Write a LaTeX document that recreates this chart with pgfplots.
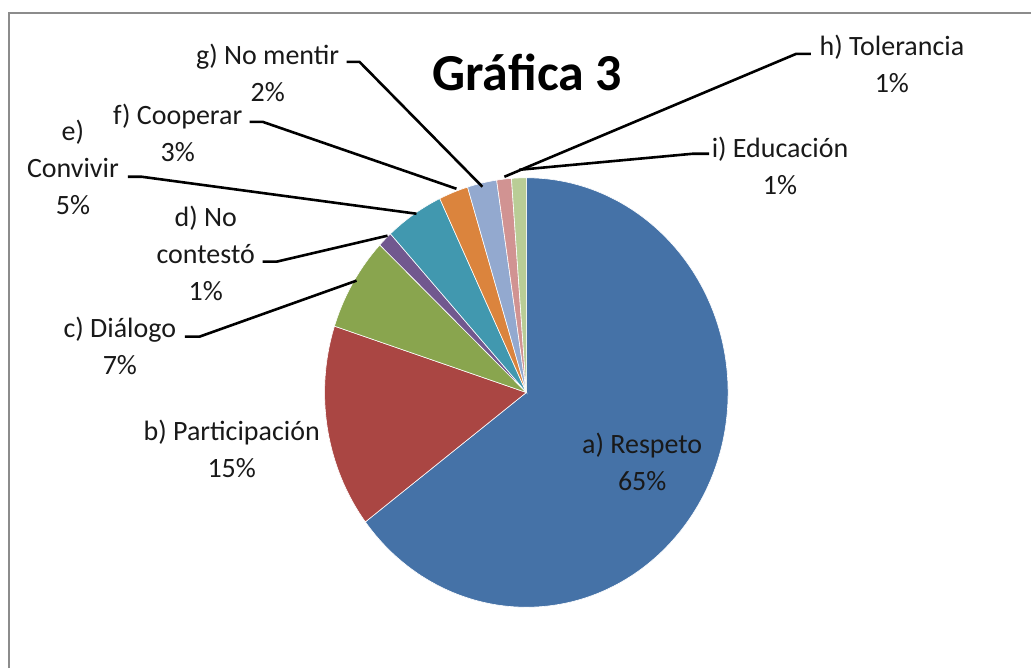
\documentclass[border=0pt]{standalone}
\usepackage{pgfplots}
\pgfplotsset{compat=1.18}
\usepackage{pgfplotstable}
\usepackage{fontspec}
\setmainfont{Carlito}

\definecolor{cA}{HTML}{4572A7}
\definecolor{cB}{HTML}{AA4643}
\definecolor{cC}{HTML}{89A54E}
\definecolor{cD}{HTML}{71588F}
\definecolor{cE}{HTML}{4198AF}
\definecolor{cF}{HTML}{DB843D}
\definecolor{cG}{HTML}{93A9CF}
\definecolor{cH}{HTML}{D19392}
\definecolor{cI}{HTML}{B9CD96}
\definecolor{frame}{HTML}{8C8C8C}

% slice values (total 85)
\pgfplotstableread{
slice value col
a 55 cA
b 13 cB
c 6 cC
d 1 cD
e 4 cE
f 2 cF
g 2 cG
h 1 cH
i 1 cI
}\piedata

\begin{document}
\begin{tikzpicture}
\begin{axis}[
  width=516bp, height=334.5bp, scale only axis,
  xmin=0, xmax=1032, ymin=0, ymax=669,
  hide axis, clip=false,
]
\path (axis cs:0,0) rectangle (axis cs:1032,669);
% frame
\draw[frame, line width=1.3bp] (axis cs:9,0) -- (axis cs:9,656) -- (axis cs:1032,656);

% pie slices
\def\cum{0}
\pgfmathsetmacro\factor{360/85}
\pgfplotsforeachungrouped \i in {0,...,8} {
  \pgfplotstablegetelem{\i}{value}\of\piedata \let\sliceval\pgfplotsretval
  \pgfplotstablegetelem{\i}{col}\of\piedata \let\slicecol\pgfplotsretval
  \pgfmathsetmacro\sa{90-\cum*\factor}
  \pgfmathsetmacro\ea{90-(\cum+\sliceval)*\factor}
  \edef\temp{\noexpand\fill[\slicecol, draw=white, line width=0.3bp] (axis cs:527,276) -- ++(\sa:101bp and 107.5bp) arc[start angle=\sa, end angle=\ea, x radius=101bp, y radius=107.5bp] -- cycle;}
  \temp
  \pgfmathsetmacro\cum{\cum+\sliceval}
}

% leader lines
\begin{scope}[line width=1.3bp, black]
\draw (axis cs:347,607) -- (axis cs:360,607) -- (axis cs:483,482);
\draw (axis cs:812,615) -- (axis cs:797,615) -- (axis cs:505,492);
\draw (axis cs:710,515) -- (axis cs:693,515) -- (axis cs:520,499);
\draw (axis cs:250,547) -- (axis cs:263,547) -- (axis cs:457,480);
\draw (axis cs:128,492) -- (axis cs:142,492) -- (axis cs:417,455);
\draw (axis cs:263,407) -- (axis cs:277,407) -- (axis cs:388,433);
\draw (axis cs:185,332) -- (axis cs:200,332) -- (axis cs:357,388);
\end{scope}

% labels
\begin{scope}[every node/.style={align=center, inner sep=0pt, font=\fontsize{14bp}{18.5bp}\selectfont, text=black!90}]
\node at (axis cs:268,596) {g) No mentir\\2\%};
\node at (axis cs:893,605) {h) Tolerancia\\1\%};
\node at (axis cs:781,503) {i) Educación\\1\%};
\node at (axis cs:178,536) {f) Cooperar\\3\%};
\node at (axis cs:73,501) {e)\\Convivir\\5\%};
\node at (axis cs:206,415) {d) No\\contestó\\1\%};
\node at (axis cs:120,323) {c) Diálogo\\7\%};
\node at (axis cs:232,220) {b) Participación\\15\%};
\node at (axis cs:643,207) {a) Respeto\\65\%};
\end{scope}

% title
\node[font=\bfseries\fontsize{26bp}{30bp}\selectfont, inner sep=0pt] at (axis cs:528,596) {Gráfica 3};
\end{axis}
\end{tikzpicture}
\end{document}
